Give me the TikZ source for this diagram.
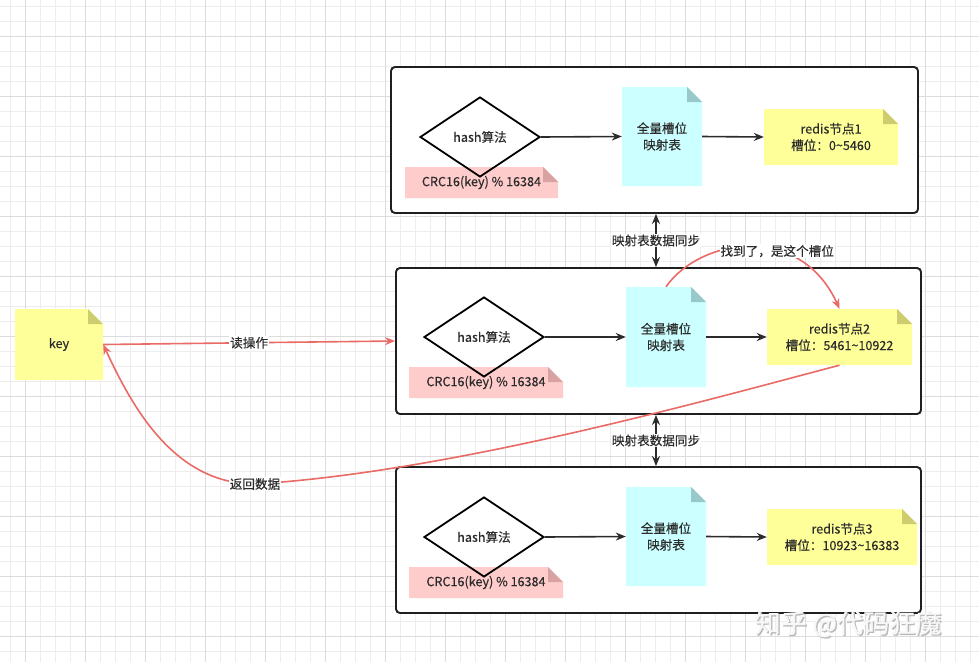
\documentclass[tikz,border=0pt]{standalone}
\usepackage{fontspec}
\setmainfont{Noto Sans CJK SC}[FakeBold=0.25]
\newfontfamily\wmfont{Noto Sans CJK SC}[FakeBold=0.6]
\usetikzlibrary{shapes.geometric,arrows.meta,calc}
\definecolor{ink}{HTML}{2B2B2B}
\definecolor{redl}{HTML}{EA6B66}
\definecolor{ynote}{HTML}{FFFF99}
\definecolor{yfold}{HTML}{CDCD70}
\definecolor{cdoc}{HTML}{CCFFFF}
\definecolor{cfold}{HTML}{97C9CA}
\definecolor{pnote}{HTML}{FFCCCC}
\definecolor{pfold}{HTML}{D9A2A2}
\definecolor{gminor}{HTML}{EDEDED}
\definecolor{gmajor}{HTML}{DCDCDC}
\newcommand\foldnote[9]{%
  \fill[#6] (#2,#3) -- ({#4-#8},#3) -- (#4,{#3+#8}) -- (#4,#5) -- (#2,#5) -- cycle;
  \fill[#7] ({#4-#8},#3) -- (#4,{#3+#8}) -- ({#4-#8},{#3+#8}) -- cycle;
  \node[txt, minimum width={(#4-#2)*1pt}, minimum height={(#5-#3)*1pt}, inner sep=0pt] (#1) at ({(#2+#4)/2},{(#3+#5)/2}) {#9};
}
\begin{document}
\begin{tikzpicture}[x=1pt,y=-1pt,
  txt/.style={text=ink, font=\fontsize{12.6}{16.5}\selectfont, align=center},
  lbl/.style={txt, fill=white, inner sep=1pt},
  box/.style={draw=black!88, line width=1.9pt, rounded corners=4pt, fill=white, inner sep=0pt},
  hashd/.style={diamond, draw=black, line width=1.8pt, minimum width=120pt, minimum height=80pt, inner sep=0pt, txt},
  darr/.style={draw=ink, line width=1.6pt, -{Stealth[length=10pt,width=8pt]}},
  syncarr/.style={draw=ink, line width=1.6pt, {Stealth[length=10pt,width=8pt]}-{Stealth[length=10pt,width=8pt]}},
  rarr/.style={draw=redl, line width=1.6pt, -{Stealth[length=10pt,width=8pt]}},
  minorgrid/.style={draw=gminor, line width=0.6pt},
  majorgrid/.style={draw=gmajor, line width=0.7pt}]
\useasboundingbox (0,0) rectangle (979,662);
\fill[white] (0,0) rectangle (979,662);
\foreach \i in {0,...,65} {\draw[minorgrid] ({10.7+15*\i},0) -- ++(0,662);}
\foreach \j in {0,...,44} {\draw[minorgrid] (0,{6+15*\j}) -- ++(979,0);}
\foreach \i in {0,...,16} {\draw[majorgrid] ({25.7+60*\i},0) -- ++(0,662);}
\foreach \j in {0,...,11} {\draw[majorgrid] (0,{36+60*\j}) -- ++(979,0);}

% key
\foldnote{key}{15}{309}{103}{380}{ynote}{yfold}{15}{key}

% box 1
\node[box, minimum width=527pt, minimum height=146pt] (b1) at (654.5,140) {};
\foldnote{c1}{405}{167}{558}{198}{pnote}{pfold}{15}{CRC16(key) \% 16384}
\node[hashd] (h1) at (480,137) {hash算法};
\foldnote{d1}{622}{87}{702}{186}{cdoc}{cfold}{15}{全量槽位\\映射表}
\foldnote{r1}{764}{109}{898}{165}{ynote}{yfold}{15}{redis节点1\\槽位：0\textasciitilde5460}
\draw[darr] (h1.east) -- (d1.west);
\draw[darr] (d1.east) -- (r1.west);

% box 2
\node[box, minimum width=525pt, minimum height=146pt] (b2) at (658.5,341) {};
\foldnote{c2}{409}{367}{563}{398}{pnote}{pfold}{15}{CRC16(key) \% 16384}
\node[hashd] (h2) at (484,337) {hash算法};
\foldnote{d2}{626}{287}{706}{387}{cdoc}{cfold}{15}{全量槽位\\映射表}
\foldnote{r2}{767}{309}{912}{365}{ynote}{yfold}{15}{redis节点2\\槽位：5461\textasciitilde10922}
\draw[darr] (h2.east) -- (d2.west);
\draw[darr] (d2.east) -- (r2.west);

% box 3
\node[box, minimum width=525pt, minimum height=146pt] (b3) at (658.5,540) {};
\foldnote{c3}{409}{567}{563}{598}{pnote}{pfold}{15}{CRC16(key) \% 16384}
\node[hashd] (h3) at (484,537) {hash算法};
\foldnote{d3}{626}{487}{706}{586}{cdoc}{cfold}{15}{全量槽位\\映射表}
\foldnote{r3}{767}{509}{917}{565}{ynote}{yfold}{15}{redis节点3\\槽位：10923\textasciitilde16383}
\draw[darr] (h3.east) -- (d3.west);
\draw[darr] (d3.east) -- (r3.west);

% sync arrows
\coordinate (sx) at (656,0);
\draw[syncarr] (b1.south -| sx) -- (b2.north -| sx) node[lbl, midway] {映射表数据同步};
\draw[syncarr] (b2.south -| sx) -- (b3.north -| sx) node[lbl, midway] {映射表数据同步};

% read
\draw[rarr] (key.east) -- (b2.west) node[lbl, pos=0.5] {读操作};

% found
\draw[rarr] (d2.north) .. controls (700,238) and (800,222) .. (r2.north) node[lbl, pos=0.63] (found) {找到了，是这个槽位};

% return
\draw[rarr] (r2.south) .. controls (700,402) and (450,472) .. (255,484) node[lbl] (ret) {返回数据} .. controls (172,484) and (130,402) .. (key.east);

% watermark
\node[font=\wmfont\fontsize{26}{30}\selectfont, text=gray!55, inner sep=0pt] (wms) at (849.3,625.3) {知乎 @代码狂魔};
\node[font=\wmfont\fontsize{26}{30}\selectfont, text=white!97!black, inner sep=0pt] (wm) at (848,624) {知乎 @代码狂魔};
\end{tikzpicture}
\end{document}
